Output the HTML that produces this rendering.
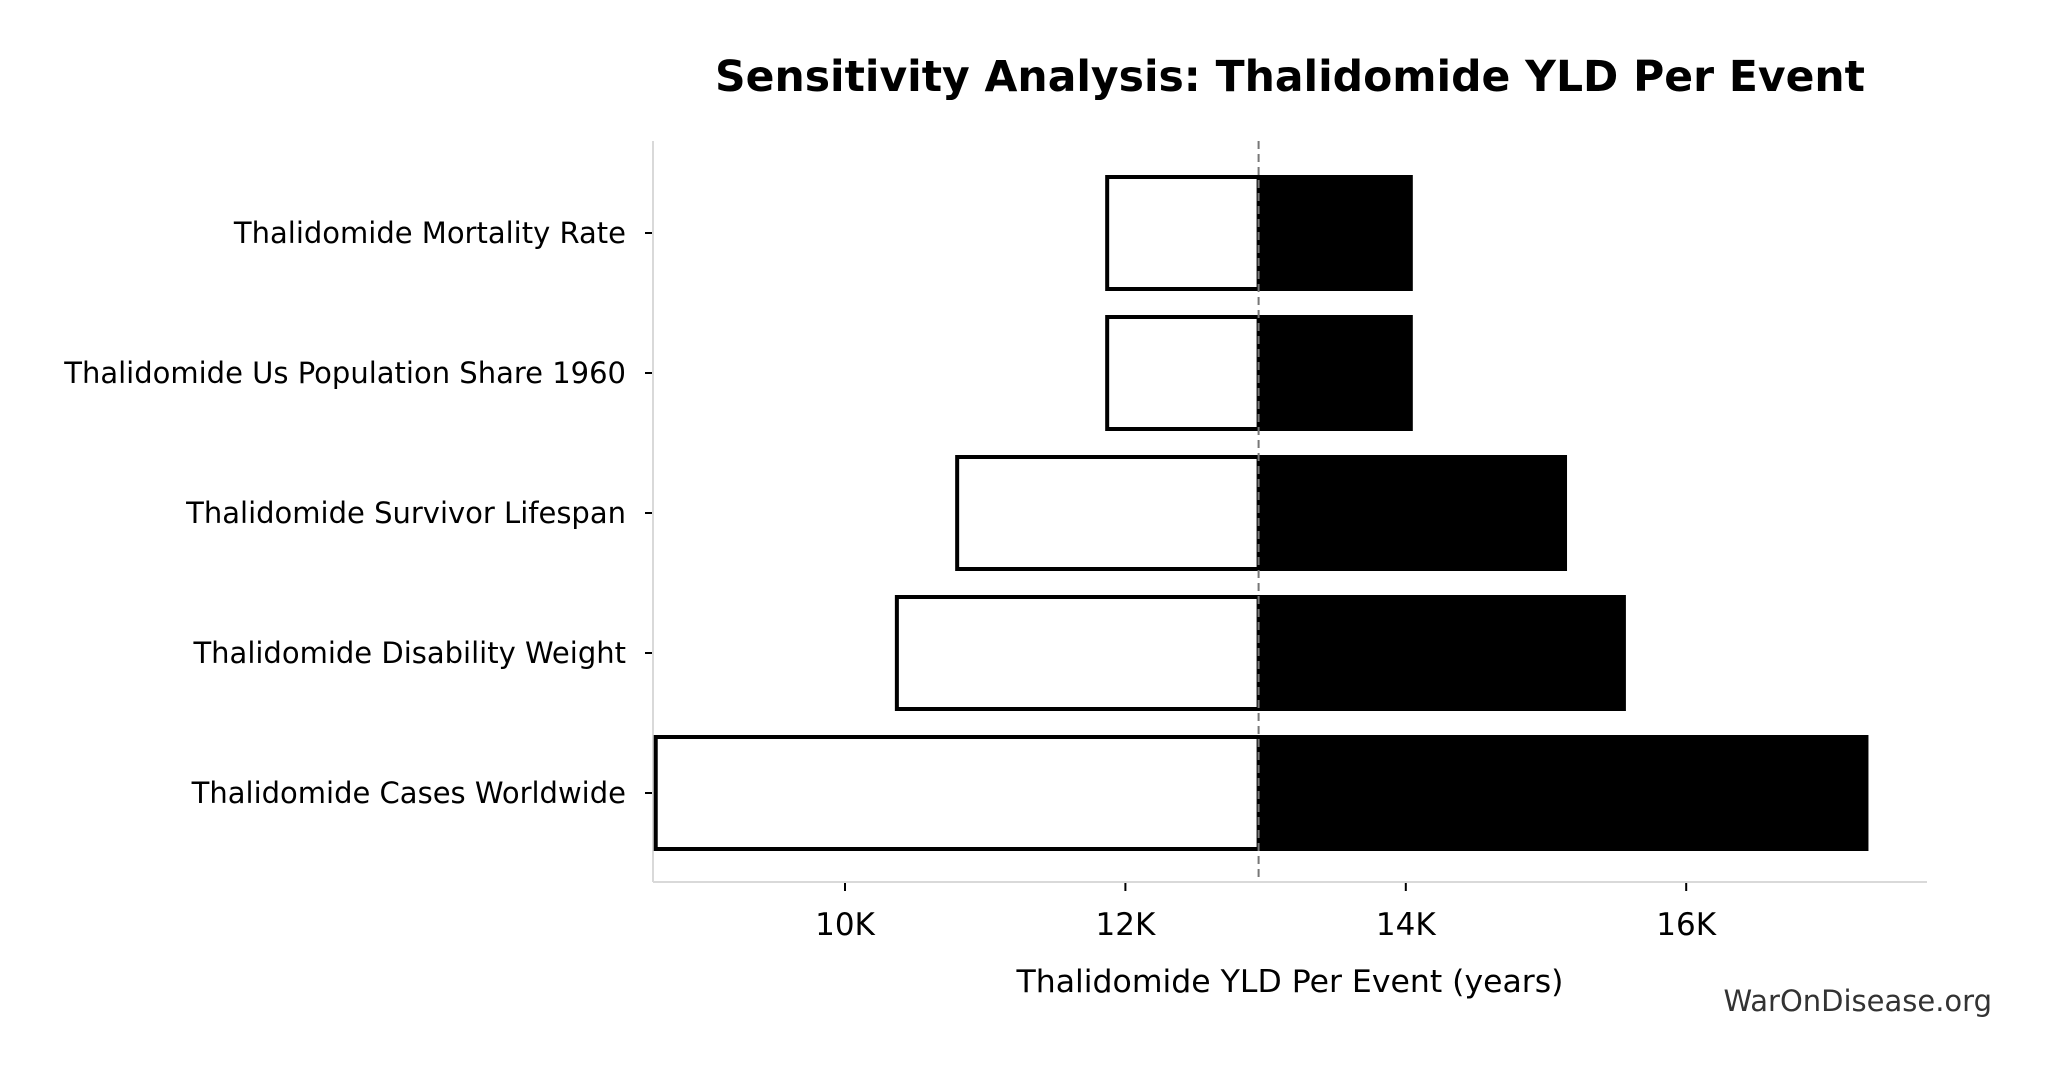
<!DOCTYPE html>
<html><head><meta charset="utf-8"><style>
html,body{margin:0;padding:0;background:#fff;}
svg{display:block;font-family:"DejaVu Sans","Liberation Sans",sans-serif;}
</style></head><body>
<svg id="chart" width="2053" height="1075" viewBox="0 0 2053 1075">
<text x="1290" y="91" text-anchor="middle" font-size="42.5" font-weight="bold">Sensitivity Analysis: Thalidomide YLD Per Event</text>
<g id="plot"></g>
<text x="1290" y="992" text-anchor="middle" font-size="31.5">Thalidomide YLD Per Event (years)</text>
<text x="1992" y="1011" text-anchor="end" font-size="29" fill="#333">WarOnDisease.org</text>
</svg>
<script>
const categories = ["Thalidomide Mortality Rate","Thalidomide Us Population Share 1960","Thalidomide Survivor Lifespan","Thalidomide Disability Weight","Thalidomide Cases Worldwide"];
const lowValues = [11.87, 11.87, 10.80, 10.37, 8.65];
const highValues = [14.05, 14.05, 15.15, 15.57, 17.30];
const baseValue = 12.95;
const xTicks = [10, 12, 14, 16];
const xTickLabels = ["10K","12K","14K","16K"];

const NS="http://www.w3.org/2000/svg";
const plot=document.getElementById('plot');
const axL=653, axR=1927, axT=141, axB=882;
function xs(v){return 845+(v-10)*140.2;}
function ys(i){return 233+i*140;}
const barH=112;
function mk(t,a){const e=document.createElementNS(NS,t);for(const k in a)e.setAttribute(k,a[k]);plot.appendChild(e);return e;}

let s=mk('line',{x1:axL,y1:axT,x2:axL,y2:axB,stroke:'#d9d9d9','stroke-width':2});


s=mk('line',{x1:axL,y1:axB,x2:axR,y2:axB,stroke:'#d9d9d9','stroke-width':2});



categories.forEach((c,i)=>{
  const y=ys(i), b=xs(baseValue);
  const lo=xs(lowValues[i]), hi=xs(highValues[i]);
  let r=mk('rect',{x:Math.min(lo,b),y:y-barH/2,width:Math.abs(b-lo),height:barH,fill:'#fff',stroke:'#000','stroke-width':4});
  
  
  r=mk('rect',{x:Math.min(hi,b),y:y-barH/2-2,width:Math.abs(hi-b),height:barH+4,fill:'#000'});
  
  
  let t=mk('line',{x1:axL-8,y1:y,x2:axL-1,y2:y,stroke:'#000','stroke-width':2});
  
  
  let l=mk('text',{x:axL-27,y:y+10,'text-anchor':'end','font-size':29});
  l.textContent=c;
  
  
});

let d=mk('line',{x1:xs(baseValue),y1:axT,x2:xs(baseValue),y2:axB,stroke:'#777','stroke-width':2,'stroke-dasharray':'8,5'});



xTicks.forEach((v,i)=>{
  const x=xs(v);
  let t=mk('line',{x1:x,y1:axB+1,x2:x,y2:axB+9,stroke:'#000','stroke-width':2});
  
  
  let l=mk('text',{x:x,y:axB+53,'text-anchor':'middle','font-size':31});
  l.textContent=xTickLabels[i];
  
  
});
</script>
</body></html>
